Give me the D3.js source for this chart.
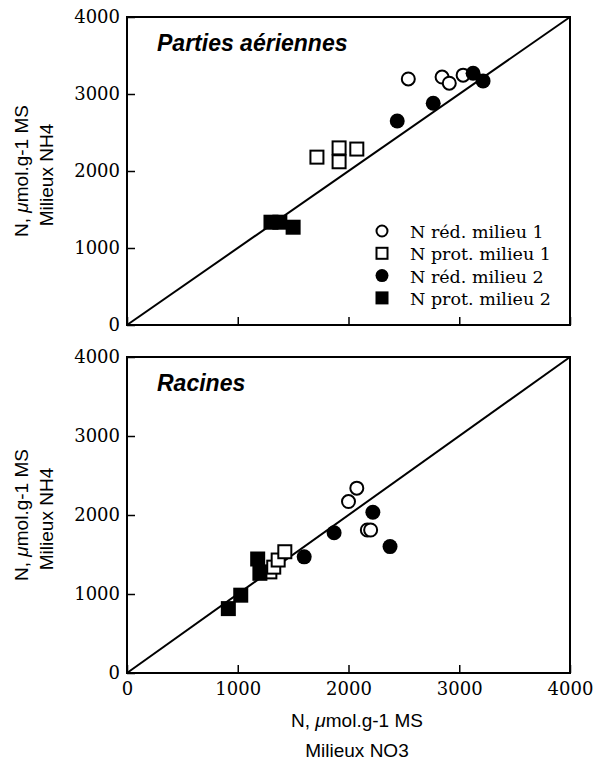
<!DOCTYPE html>
<html><head><meta charset="utf-8">
<script src="https://cdn.jsdelivr.net/npm/d3@7"></script>
<style>body{margin:0;background:#fff}svg{display:block}</style>
</head><body><svg id="c" width="600" height="765"></svg>
<script>
// ---- data ----
const ticks = [0, 1000, 2000, 3000, 4000];
const seriesNames = ["N réd. milieu 1", "N prot. milieu 1", "N réd. milieu 2", "N prot. milieu 2"];
const seriesShapes = ["circle", "square", "circle", "square"];
const seriesFilled = [false, false, true, true];

// Parties aériennes: [NO3, NH4]
const topRed1 = [[2540, 3195], [2845, 3220], [2910, 3140], [3035, 3245]];
const topProt1 = [[1715, 2180], [1915, 2300], [1915, 2120], [2075, 2285]];
const topRed2 = [[2440, 2650], [2765, 2880], [3125, 3270], [3215, 3170]];
const topProt2 = [[1300, 1335], [1380, 1335], [1500, 1270]];

// Racines
const botRed1 = [[2075, 2340], [2000, 2170], [2170, 1810], [2200, 1810]];
const botProt1 = [[1290, 1280], [1325, 1340], [1365, 1430], [1425, 1535]];
const botRed2 = [[1600, 1470], [1870, 1775], [2220, 2035], [2375, 1600]];
const botProt2 = [[915, 815], [1027, 985], [1180, 1443], [1200, 1262]];

const panels = [
  {title: "Parties aériennes", top: 17, bottom: 325, series: [topRed1, topProt1, topRed2, topProt2], legend: true},
  {title: "Racines", top: 357, bottom: 673, series: [botRed1, botProt1, botRed2, botProt2], legend: false}
];

const svg = d3.select("#c");
const left = 127, right = 570;
const x = d3.scaleLinear().domain([0, 4000]).range([left, right]);
const serif = "'DejaVu Serif', serif";
const sans = "'Liberation Sans', Arial, sans-serif";

function drawSymbol(g, shape, filled, cx, cy, size) {
  if (shape === "circle") {
    g.append("circle").attr("cx", cx).attr("cy", cy).attr("r", filled ? size / 2 : size / 2 - 1)
      .attr("fill", filled ? "#000" : "#fff").attr("stroke", "#000").attr("stroke-width", filled ? 0 : 2);
  } else {
    const s = filled ? size : size - 2;
    g.append("rect").attr("x", cx - s / 2).attr("y", cy - s / 2).attr("width", s).attr("height", s)
      .attr("fill", filled ? "#000" : "#fff").attr("stroke", "#000").attr("stroke-width", filled ? 0 : 2);
  }
}

panels.forEach((p, pi) => {
  const y = d3.scaleLinear().domain([0, 4000]).range([p.bottom, p.top]);
  const g = svg.append("g");

  g.append("line").attr("x1", x(0)).attr("y1", y(0)).attr("x2", x(4000)).attr("y2", y(4000))
    .attr("stroke", "#000").attr("stroke-width", 2);

  g.append("rect").attr("x", left).attr("y", p.top).attr("width", right - left).attr("height", p.bottom - p.top)
    .attr("fill", "none").attr("stroke", "#000").attr("stroke-width", 2);

  const ya = g.append("g").attr("transform", `translate(${left},0)`)
    .call(d3.axisLeft(y).tickValues(ticks).tickFormat(d3.format("d")).tickSize(-8).tickPadding(7));
  ya.select(".domain").remove();
  ya.selectAll("line").attr("stroke", "#000").attr("stroke-width", 1.5);
  ya.selectAll("text").attr("font-family", serif).attr("font-size", 18).attr("fill", "#000");

  const xa = g.append("g").attr("transform", `translate(0,${p.bottom})`)
    .call(d3.axisBottom(x).tickValues(ticks).tickFormat(d3.format("d")).tickSize(-8).tickPadding(9));
  xa.select(".domain").remove();
  xa.selectAll("line").attr("stroke", "#000").attr("stroke-width", 1.5);
  xa.selectAll("text").attr("font-family", serif).attr("font-size", 18).attr("fill", "#000");
  if (pi === 0) xa.selectAll("text").remove();

  [0, 1, 2, 3].forEach(si => {
    p.series[si].forEach(d => drawSymbol(g, seriesShapes[si], seriesFilled[si], x(d[0]), y(d[1]), 15));
  });

  g.append("text").attr("x", 157).attr("y", p.top + 34).text(p.title)
    .attr("font-family", sans).attr("font-weight", "bold").attr("font-style", "italic")
    .attr("font-size", 23).attr("fill", "#000");

  const cy = (p.top + p.bottom) / 2;
  const yl = g.append("text").attr("transform", `translate(28,${cy}) rotate(-90)`)
    .attr("text-anchor", "middle").attr("font-family", sans).attr("font-size", 19).attr("fill", "#000");
  yl.append("tspan").text("N, ");
  yl.append("tspan").attr("font-style", "italic").text("μ");
  yl.append("tspan").text("mol.g-1 MS");
  g.append("text").attr("transform", `translate(53,${cy + 4}) rotate(-90)`)
    .attr("text-anchor", "middle").attr("font-family", sans).attr("font-size", 19).attr("fill", "#000")
    .text("Milieux NH4");

  if (p.legend) {
    const lg = g.append("g");
    seriesNames.forEach((n, i) => {
      const ly = 231 + i * 22.3;
      drawSymbol(lg, seriesShapes[i], seriesFilled[i], 382, ly, 13);
      lg.append("text").attr("x", 410).attr("y", ly + 7).text(n)
        .attr("font-family", serif).attr("font-size", 17.5).attr("fill", "#000");
    });
  }
});

const xl = svg.append("text").attr("x", 357).attr("y", 727).attr("text-anchor", "middle")
  .attr("font-family", sans).attr("font-size", 19).attr("fill", "#000");
xl.append("tspan").text("N, ");
xl.append("tspan").attr("font-style", "italic").text("μ");
xl.append("tspan").text("mol.g-1 MS");
svg.append("text").attr("x", 357).attr("y", 757).attr("text-anchor", "middle")
  .attr("font-family", sans).attr("font-size", 19).attr("fill", "#000").text("Milieux NO3");
</script></body></html>
